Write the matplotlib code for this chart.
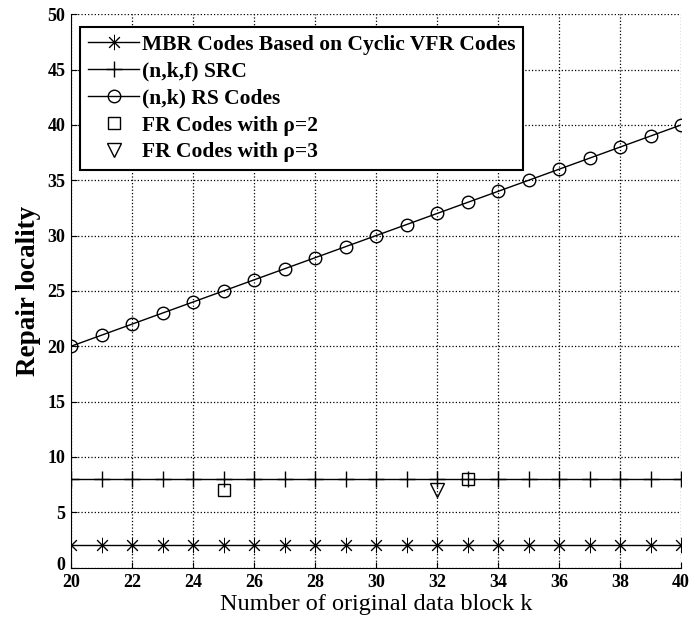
import numpy as np
import matplotlib
matplotlib.use("Agg")
import matplotlib.pyplot as plt
import matplotlib.transforms as mtransforms

plt.rcParams['font.family'] = ['Liberation Serif', 'DejaVu Serif']

k = list(range(20, 41))
mbr_vfr = [2] * len(k)
src = [8] * len(k)
rs = list(range(20, 41))
fr2_k = [25, 33]
fr2_val = [7, 8]
fr3_k = [32]
fr3_val = [7]

fig = plt.figure(figsize=(6.99, 6.23), dpi=100)
ax = fig.add_axes([0.1016, 0.089, 0.8727, 0.888])

ax.plot(k, mbr_vfr, color='black', lw=1, marker=(8, 2, 0), ms=11, mew=0.7,
        label='MBR Codes Based on Cyclic VFR Codes')
ax.plot(k, src, color='black', lw=1, marker='+', ms=12, mew=1,
        label='(n,k,f) SRC')
ax.plot(k, rs, color='black', lw=1, marker='o', ms=9, mfc='none', mew=1,
        label='(n,k) RS Codes')
ax.plot(fr2_k, fr2_val, ls='none', color='black', marker='s', ms=8, mfc='none', mew=1,
        label='FR Codes with \u03c1=2')
ax.plot(fr3_k, fr3_val, ls='none', color='black', marker='v', ms=10, mfc='none', mew=1,
        label='FR Codes with \u03c1=3')

ax.set_xlim(20, 40)
ax.set_ylim(0, 50)
ax.set_xticks(range(20, 41, 2))
ax.set_yticks(range(0, 51, 5))
ax.grid(True, color='black', ls=':', lw=0.9)
for s in ['top', 'right']:
    ax.spines[s].set_visible(False)
ax.tick_params(axis='x', direction='in', length=4, labelsize=13, pad=5)
ax.tick_params(axis='y', direction='in', length=4, labelsize=13, pad=4)
for lab in ax.get_xticklabels() + ax.get_yticklabels():
    lab.set_fontweight('bold')
# lift the bottom "0" a little so it clears the first x label
ylab0 = ax.get_yticklabels()[0]
ylab0.set_transform(ylab0.get_transform() +
                    mtransforms.ScaledTranslation(0, 3 / 72, fig.dpi_scale_trans))

ax.set_xlabel('Number of original data block k', fontsize=17.5, labelpad=2)
ax.set_ylabel('Repair locality', fontsize=19.5, fontweight='bold', labelpad=5)

leg = ax.legend(loc='upper left', bbox_to_anchor=(0.015, 0.977), fancybox=False,
                edgecolor='black', framealpha=1, handlelength=2.4, handletextpad=0.1,
                borderpad=0.35, labelspacing=0.32, borderaxespad=0,
                prop={'weight': 'bold', 'size': 15.5})
leg.get_frame().set_linewidth(1.5)

fig.savefig('out.png', dpi=100)
